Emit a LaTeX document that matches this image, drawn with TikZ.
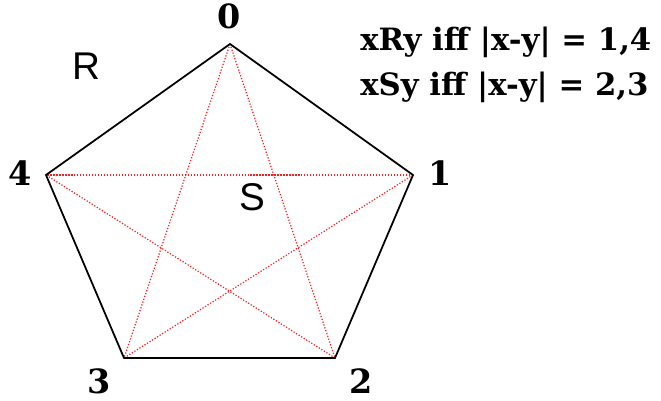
\documentclass[tikz,border=0pt]{standalone}
\usepackage{fontspec}
\usepackage{xcolor}
\newfontfamily\labfont{DejaVu Serif}
\newfontfamily\relfont{Liberation Sans}
\definecolor{edgeblack}{RGB}{0,0,0}
\definecolor{diagred}{RGB}{255,30,30}
\tikzset{
  edge/.style  ={draw=edgeblack, line width=1pt},
  diag/.style  ={draw=diagred, line width=0.7pt, densely dotted},
  vlab/.style  ={font=\labfont\bfseries\fontsize{19}{21}\selectfont, inner sep=0pt},
  rlab/.style  ={font=\relfont\fontsize{22}{24}\selectfont, inner sep=0pt},
  rule/.style  ={font=\labfont\bfseries\fontsize{17.5}{20}\selectfont, inner sep=0pt, anchor=base west},
}
\begin{document}
\begin{tikzpicture}[x=0.02cm,y=-0.02cm]
  \useasboundingbox (0,0) rectangle (661,401);
  % vertices of the pentagon
  \coordinate (v0) at (230,44);
  \coordinate (v1) at (413,175);
  \coordinate (v2) at (335,358);
  \coordinate (v3) at (124,358);
  \coordinate (v4) at (46,175);
  % diagonals (relation S)
  \draw[diag] (v0) -- (v2);
  \draw[diag] (v0) -- (v3);
  \draw[diag] (v1) -- (v3);
  \draw[diag] (v1) -- (v4);
  \draw[diag] (v2) -- (v4);
  % sides (relation R)
  \draw[edge] (v0) -- (v1) -- (v2) -- (v3) -- (v4) -- cycle;
  % vertex labels
  \node[vlab] (l0) at (229,16) {0};
  \node[vlab] (l1) at (440,173) {1};
  \node[vlab] (l2) at (361,381) {2};
  \node[vlab] (l3) at (99,381) {3};
  \node[vlab] (l4) at (20,173) {4};
  % relation names
  \node[rlab] (nR) at (86,66) {R};
  \node[rlab] (nS) at (252,197) {S};
  % definitions
  \node[rule] (defR) at (360,51) {xRy iff |x-y| = 1,4};
  \node[rule] (defS) at (360,96) {xSy iff |x-y| = 2,3};
\end{tikzpicture}
\end{document}
